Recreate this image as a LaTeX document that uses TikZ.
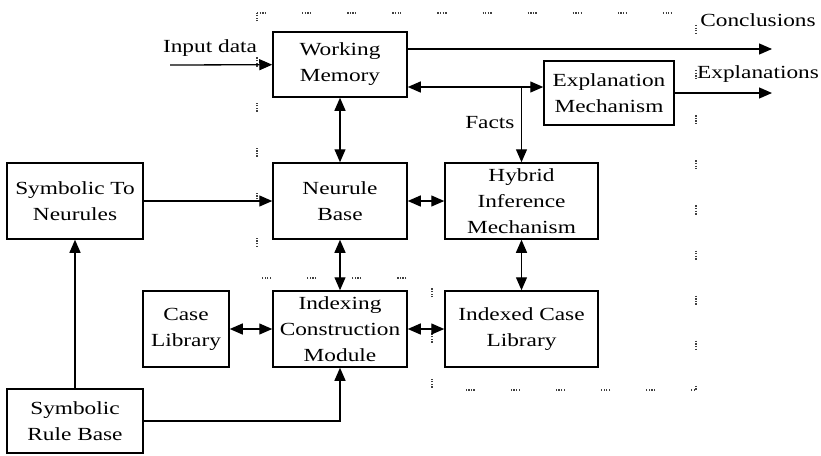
\documentclass[tikz,border=0pt]{standalone}
\usepackage{fontspec}
\setmainfont{Liberation Serif}[FakeStretch=1.26]
\usetikzlibrary{arrows.meta}

\begin{document}
\begin{tikzpicture}[x=1pt, y=-1pt, >={Triangle[length=13pt,width=11pt]},
    every node/.style={font=\fontsize{18.5}{26}\selectfont}]
  \tikzstyle{block}=[draw,line width=1.5pt,inner sep=1pt,align=center]
  \tikzstyle{link}=[line width=1.3pt]
  \tikzstyle{frame}=[line width=1.3pt,black!75,dash pattern=on 1.3pt off 1.3pt on 1.3pt off 1.3pt on 1.3pt off 1.3pt on 1.3pt off 36pt]
  \useasboundingbox (0,0) rectangle (821,455);
  % dotted frame round the hybrid part
  \draw[frame] (257,13) -- (696,13) -- (696,390) -- (432,390) -- (432,278) -- (257,278) -- cycle;
  % blocks
  \node[block,minimum width=134pt,minimum height=65pt] (wm) at (340,64.5) {Working\\Memory};
  \node[block,minimum width=130pt,minimum height=64pt] (expl) at (609,93) {Explanation\\Mechanism};
  \node[block,minimum width=136pt,minimum height=76pt] (stn) at (75,201) {Symbolic To\\Neurules};
  \node[block,minimum width=134pt,minimum height=76pt] (nb) at (340,201) {Neurule\\Base};
  \node[block,minimum width=153pt,minimum height=76pt] (him) at (521.5,201) {Hybrid\\Inference\\Mechanism};
  \node[block,minimum width=86pt,minimum height=76pt] (cl) at (186,329) {Case\\Library};
  \node[block,minimum width=134pt,minimum height=76pt] (icm) at (340,329) {Indexing\\Construction\\Module};
  \node[block,minimum width=153pt,minimum height=76pt] (icl) at (521.5,329) {Indexed Case\\Library};
  \node[block,minimum width=136pt,minimum height=64pt] (srb) at (75,421) {Symbolic\\Rule Base};
  % inputs and outputs
  \coordinate (inp) at (170,65);
  \coordinate (concl) at (772,49);
  \coordinate (expo) at (772,93);
  \coordinate (fx) at (521.5,87);
  \node (inlbl) at (210,48) {Input data};
  \node (conlbl) at (758,20) {Conclusions};
  \node (explbl) at (758,74) {Explanations};
  \node[anchor=east] (factlbl) at (518,123) {Facts};
  % connections
  \draw[->,link] (inp) -- (wm);
  \draw[->,link] (wm.east |- concl) -- (concl);
  \draw[->,link] (expl) -- (expo);
  \draw[<->,link] (wm.east |- fx) -- (expl.west |- fx);
  \draw[->,link] (fx) -- (him);
  \draw[<->,link] (wm) -- (nb);
  \draw[->,link] (stn) -- (nb);
  \draw[<->,link] (nb) -- (him);
  \draw[<->,link] (nb) -- (icm);
  \draw[<->,link] (him) -- (icl);
  \draw[<->,link] (cl) -- (icm);
  \draw[<->,link] (icm) -- (icl);
  \draw[->,link] (srb) -- (stn);
  \draw[->,link] (srb) -| (icm);
\end{tikzpicture}
\end{document}
